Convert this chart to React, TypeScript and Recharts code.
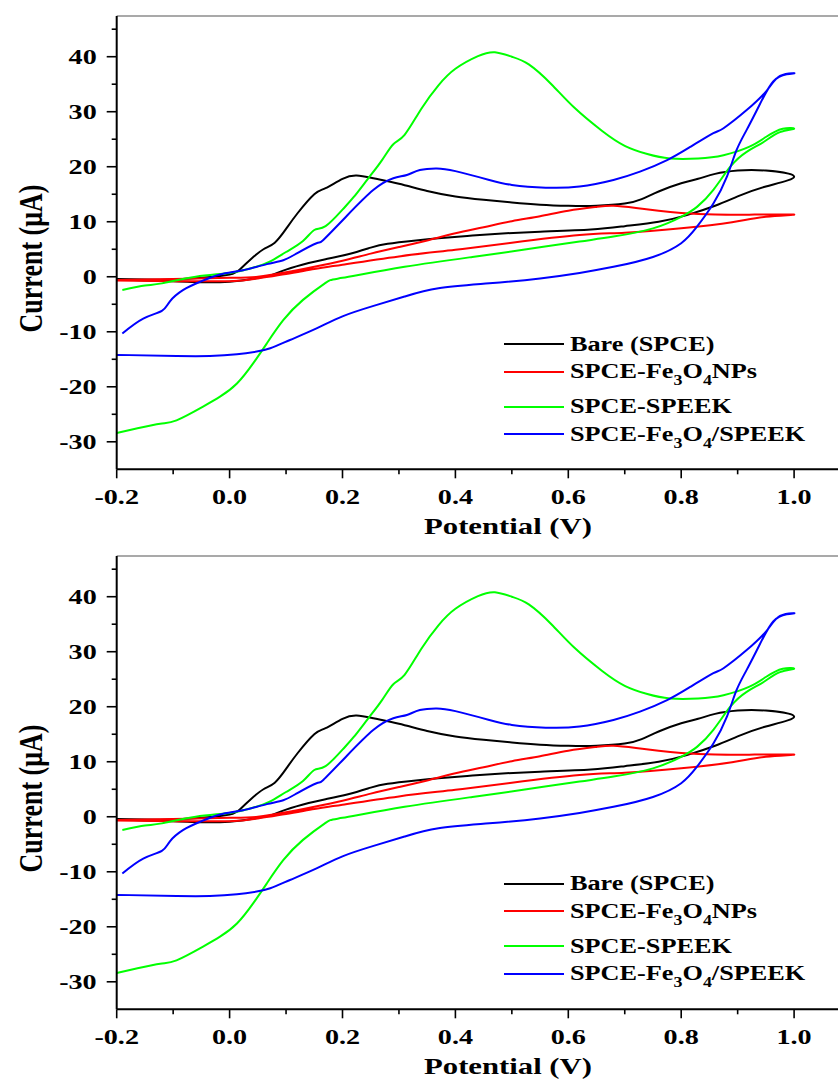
import React from 'react';
import { LineChart, Line, XAxis, YAxis, Legend, ReferenceLine, Label } from 'recharts';

// potential (V) / current (uA) pairs, forward scan then reverse scan
const bareE = [-0.2, -0.15, -0.1, -0.05, 0, 0.02, 0.04, 0.06, 0.08, 0.1, 0.12, 0.15, 0.17, 0.2, 0.225, 0.255, 0.3, 0.35, 0.4, 0.45, 0.5, 0.55, 0.6, 0.65, 0.7, 0.73, 0.76, 0.8, 0.83, 0.86, 0.9, 0.95, 1.0,
  0.95, 0.9, 0.86, 0.81, 0.76, 0.7, 0.64, 0.55, 0.49, 0.43, 0.37, 0.33, 0.28, 0.25, 0.21, 0.17, 0.14, 0.1, 0.07, 0.04, 0.0, -0.05, -0.1, -0.2];
const bareI = [-0.4, -0.5, -0.5, -0.2, 0.4, 1.5, 3.4, 5.0, 6.2, 8.7, 11.5, 15.0, 16.1, 17.8, 18.4, 17.9, 16.9, 15.6, 14.6, 14.0, 13.5, 13.1, 12.9, 12.9, 13.3, 14.1, 15.5, 17.0, 17.8, 18.7, 19.3, 19.3, 18.2,
  16.4, 14.6, 12.9, 11.2, 10.0, 9.2, 8.6, 8.2, 7.9, 7.5, 7.0, 6.6, 6.0, 5.3, 4.1, 3.2, 2.5, 1.3, 0.2, -0.4, -0.9, -1.0, -0.8, -0.5];

const npE = [-0.2, -0.1, 0.0, 0.05, 0.1, 0.15, 0.2, 0.25, 0.3, 0.35, 0.4, 0.45, 0.5, 0.55, 0.6, 0.65, 0.68, 0.72, 0.76, 0.8, 0.86, 0.93, 1.0,
  0.95, 0.89, 0.8, 0.7, 0.62, 0.5, 0.4, 0.3, 0.2, 0.15, 0.1, 0.05, 0.0, -0.1, -0.2];
const npI = [-0.6, -0.4, -0.2, 0.0, 0.8, 1.8, 2.9, 4.2, 5.4, 6.6, 7.9, 9.0, 10.1, 11.0, 12.0, 12.7, 12.9, 12.5, 12.0, 11.6, 11.3, 11.3, 11.3,
  10.9, 9.9, 8.8, 8.0, 7.6, 6.2, 4.9, 3.7, 2.2, 1.4, 0.5, -0.3, -0.8, -0.8, -0.7];

const speekE = [-0.19, -0.15, -0.12, -0.06, 0.0, 0.04, 0.07, 0.1, 0.13, 0.15, 0.17, 0.2, 0.22, 0.245, 0.27, 0.29, 0.31, 0.34, 0.37, 0.4, 0.44, 0.47, 0.5, 0.53, 0.57, 0.61, 0.66, 0.7, 0.74, 0.78, 0.83, 0.875, 0.92, 0.95, 0.98, 1.0,
  0.975, 0.946, 0.916, 0.887, 0.857, 0.828, 0.8, 0.75, 0.68, 0.62, 0.52, 0.43, 0.31, 0.2, 0.17, 0.13, 0.095, 0.066, 0.042, 0.013, -0.017, -0.047, -0.094, -0.123, -0.165, -0.2];
const speekI = [-2.4, -1.6, -1.2, 0.0, 0.7, 1.6, 2.7, 4.5, 6.5, 8.5, 9.2, 12.2, 14.5, 17.8, 21.2, 24.1, 25.8, 30.6, 34.8, 37.8, 40.1, 40.8, 40.0, 38.6, 35.0, 30.8, 26.5, 23.8, 22.3, 21.5, 21.5, 22.1, 23.6, 25.4, 26.9, 26.9,
  26.3, 24.5, 22.7, 20.0, 15.8, 12.7, 10.9, 8.8, 7.3, 6.4, 4.9, 3.6, 1.8, -0.2, -1.1, -4.2, -7.9, -12.1, -15.7, -19.4, -21.8, -23.6, -26.1, -26.7, -27.6, -28.4];

const compE = [-0.19, -0.153, -0.12, -0.106, -0.082, -0.052, -0.017, 0.024, 0.066, 0.095, 0.12, 0.154, 0.166, 0.207, 0.255, 0.29, 0.314, 0.337, 0.367, 0.4, 0.46, 0.5, 0.56, 0.62, 0.68, 0.727, 0.775, 0.816, 0.857, 0.875, 0.916, 0.952, 0.975, 1.0,
  0.987, 0.963, 0.94, 0.916, 0.898, 0.881, 0.857, 0.828, 0.8, 0.75, 0.68, 0.62, 0.55, 0.46, 0.37, 0.31, 0.255, 0.2, 0.154, 0.107, 0.072, 0.048, 0.013, -0.035, -0.094, -0.2];
const compI = [-10.3, -7.6, -6.2, -4.5, -2.4, -0.9, 0.4, 1.2, 2.3, 3.0, 4.3, 6.1, 6.7, 11.0, 15.8, 17.9, 18.5, 19.4, 19.7, 19.2, 17.6, 16.7, 16.2, 16.4, 17.6, 19.1, 21.2, 23.6, 26.1, 27.0, 30.3, 33.9, 36.5, 37.0,
  36.8, 35.5, 31.5, 26.7, 23.0, 18.2, 13.3, 9.1, 6.1, 3.6, 1.8, 0.7, -0.3, -1.2, -2.1, -3.6, -5.3, -7.2, -9.4, -11.5, -13.0, -13.6, -14.1, -14.4, -14.4, -14.2];

const seriesNames = ['Bare (SPCE)', 'SPCE-Fe3O4NPs', 'SPCE-SPEEK', 'SPCE-Fe3O4/SPEEK'];
const seriesColors = ['#000000', '#ff0000', '#00ff00', '#0000ff'];
const xTicks = [-0.2, -0.1, 0, 0.1, 0.2, 0.3, 0.4, 0.5, 0.6, 0.7, 0.8, 0.9, 1.0, 1.1];
const yTicks = [-30, -25, -20, -15, -10, -5, 0, 5, 10, 15, 20, 25, 30, 35, 40, 45];

const toPoints = (e: number[], cur: number[]) => e.map((v, k) => ({ e: v, i: cur[k] }));
const series = [
  { name: seriesNames[0], color: seriesColors[0], data: toPoints(bareE, bareI) },
  { name: seriesNames[1], color: seriesColors[1], data: toPoints(npE, npI) },
  { name: seriesNames[2], color: seriesColors[2], data: toPoints(speekE, speekI) },
  { name: seriesNames[3], color: seriesColors[3], data: toPoints(compE, compI) },
];

const FONT = '"Liberation Serif", "Times New Roman", serif';
const STRETCH = 1.28; // glyphs in the figure are stretched sideways
const CHART_W = 907;
const CHART_H = 540;
const PLOT_BOTTOM = 469.3;
const X_AXIS_H = 40;
const LEGEND_ROWS = [344.3, 371.7, 406.7, 434];

function XTick(props: any) {
  const { x, y, payload } = props;
  const v = payload.value as number;
  const major = Math.round(v * 10) % 2 === 0;
  return (
    <g>
      <line x1={x} x2={x} y1={y} y2={y + (major ? 9 : 5)} stroke="#000" strokeWidth={1.6} />
      {major && (
        <text transform={`translate(${x},${y + 35}) scale(${STRETCH},1)`} textAnchor="middle"
          fontFamily={FONT} fontWeight="bold" fontSize={22} fill="#000">
          {v.toFixed(1)}
        </text>
      )}
    </g>
  );
}

function YTick(props: any) {
  const { x, y, payload } = props;
  const v = payload.value as number;
  const major = v % 10 === 0;
  return (
    <g>
      <line x1={x - (major ? 10 : 5)} x2={x} y1={y} y2={y} stroke="#000" strokeWidth={1.6} />
      {major && (
        <text transform={`translate(${x - 20},${y + 7.5}) scale(${STRETCH},1)`} textAnchor="end"
          fontFamily={FONT} fontWeight="bold" fontSize={22} fill="#000">
          {String(v)}
        </text>
      )}
    </g>
  );
}

const renderName = (name: string) =>
  name.split(/(\d)/).map((part, k) =>
    /\d/.test(part)
      ? <span key={k} style={{ fontSize: 14, position: 'relative', top: 7 }}>{part}</span>
      : <React.Fragment key={k}>{part}</React.Fragment>
  );

function renderLegend() {
  return (
    <div style={{ position: 'absolute', left: 0, top: 0 }}>
      {series.map((s, k) => (
        <div key={s.name}>
          <div style={{ position: 'absolute', left: 504, top: LEGEND_ROWS[k] - 1, width: 60, height: 2, background: s.color }} />
          <span style={{
            position: 'absolute', left: 570, top: LEGEND_ROWS[k] - 10.4, whiteSpace: 'nowrap',
            fontFamily: FONT, fontWeight: 'bold', fontSize: 20.5, lineHeight: '20.5px', color: '#000',
            transform: `scaleX(${STRETCH})`, transformOrigin: 'left center',
          }}>
            {renderName(s.name)}
          </span>
        </div>
      ))}
    </div>
  );
}

function Panel() {
  return (
    <LineChart width={CHART_W} height={CHART_H}
      margin={{ top: 16, right: 0, bottom: CHART_H - PLOT_BOTTOM - X_AXIS_H, left: 0 }}>
      <XAxis dataKey="e" type="number" domain={[-0.2, 1.2]} allowDataOverflow ticks={xTicks} interval={0}
        tickSize={0} tickMargin={0} tickLine={false} tick={XTick} height={X_AXIS_H}
        axisLine={{ stroke: '#000', strokeWidth: 2 }}>
        <Label content={() => (
          <text transform={`translate(508,${PLOT_BOTTOM + 65}) scale(${STRETCH},1)`} textAnchor="middle"
            fontFamily={FONT} fontWeight="bold" fontSize={24} fill="#000">
            Potential (V)
          </text>
        )} />
      </XAxis>
      <YAxis type="number" domain={[-35, 47.4]} allowDataOverflow ticks={yTicks} interval={0}
        tickSize={0} tickMargin={0} tickLine={false} tick={YTick} width={116.7}
        axisLine={{ stroke: '#000', strokeWidth: 2 }}>
        <Label content={() => (
          <text transform={`translate(41.7,258.5) scale(${STRETCH},1) rotate(-90)`} textAnchor="middle"
            fontFamily={FONT} fontWeight="bold" fontSize={26} fill="#000">
            Current (μA)
          </text>
        )} />
      </YAxis>
      <ReferenceLine y={47.4} stroke="#8c8c8c" strokeWidth={1.5} />
      {series.map((s) => (
        <Line key={s.name} data={s.data} dataKey="i" name={s.name} type="natural" stroke={s.color}
          strokeWidth={2} dot={false} activeDot={false} isAnimationActive={false} />
      ))}
      <Legend layout="vertical" align="center" verticalAlign="middle" content={renderLegend}
        wrapperStyle={{ left: 0, top: 0, width: 0, height: 0 }} />
    </LineChart>
  );
}

export default function App() {
  return (
    <div style={{ position: 'absolute', left: 0, top: 0, width: 838, height: 1079, overflow: 'hidden', background: '#fff' }}>
      <div style={{ position: 'absolute', left: 0, top: 0 }}>
        <Panel />
      </div>
      <div style={{ position: 'absolute', left: 0, top: 539.6 }}>
        <Panel />
      </div>
    </div>
  );
}
